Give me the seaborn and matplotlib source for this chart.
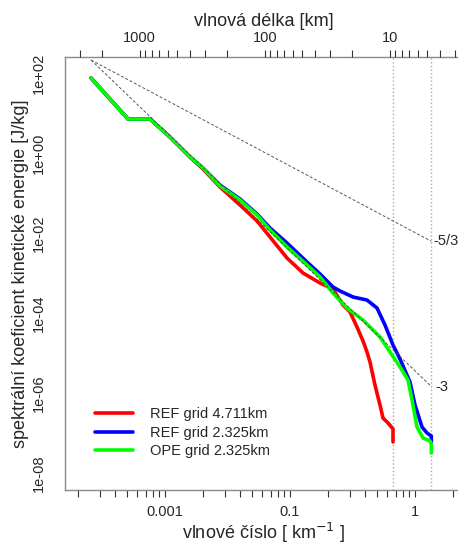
import numpy as np
import seaborn as sns
import matplotlib
matplotlib.use('Agg')
import matplotlib.pyplot as plt
from matplotlib.ticker import FixedLocator, FixedFormatter, LogLocator, NullFormatter
from matplotlib.lines import Line2D

# spectra (wavenumber [km^-1], energy [J/kg])
red_k = [0.00256, 0.00506, 0.00759, 0.01096, 0.01585, 0.02014, 0.02754, 0.03981, 0.05445,
         0.06918, 0.09462, 0.1271, 0.1738, 0.2208, 0.2655, 0.3020, 0.3436, 0.3837, 0.4130,
         0.4365, 0.4786, 0.5248, 0.5546, 0.6081, 0.6669, 0.6669]
red_E = [75.0, 7.08, 7.08, 2.51, 0.794, 0.398, 0.141, 0.0501, 0.0200, 0.00794, 0.00237,
         0.00100, 0.000562, 0.000398, 0.000158, 0.000106, 4.47e-5, 2.00e-5, 1.06e-5, 5.96e-6,
         1.58e-6, 5.01e-7, 2.37e-7, 1.78e-7, 1.26e-7, 5.96e-8]

blue_k = [0.00256, 0.00506, 0.00759, 0.01096, 0.01585, 0.02014, 0.02754, 0.03981, 0.05445,
          0.06918, 0.09462, 0.1368, 0.1738, 0.2208, 0.2512, 0.3192, 0.4130, 0.4966, 0.5754,
          0.6669, 0.7586, 0.9120, 1.0, 1.138, 1.247, 1.351, 1.351]
blue_E = [75.0, 7.08, 7.08, 2.51, 0.794, 0.422, 0.158, 0.0708, 0.0299, 0.0133, 0.00562,
          0.00188, 0.000944, 0.000447, 0.000355, 0.000251, 0.000211, 0.000133, 5.01e-5,
          1.58e-5, 7.08e-6, 1.88e-6, 5.01e-7, 1.41e-7, 1.0e-7, 8.41e-8, 5.96e-8]

green_k = [0.00256, 0.00506, 0.00759, 0.01096, 0.01585, 0.02014, 0.02754, 0.03981, 0.05445,
           0.06918, 0.09462, 0.1368, 0.1738, 0.2208, 0.2858, 0.3837, 0.5248, 0.6310, 0.7586,
           0.8790, 0.9462, 1.0375, 1.159, 1.318, 1.351, 1.351]
green_E = [75.0, 7.08, 7.08, 2.51, 0.794, 0.422, 0.150, 0.0668, 0.0282, 0.0119, 0.00447,
           0.00158, 0.000794, 0.000316, 0.000133, 6.68e-5, 2.51e-5, 1.06e-5, 4.47e-6, 2.11e-6,
           6.68e-7, 1.41e-7, 7.5e-8, 6.31e-8, 5.31e-8, 3.16e-8]

series_names = ['REF grid 4.711km', 'REF grid 2.325km', 'OPE grid 2.325km']
series_colors = ['#ff0000', '#0000ff', '#00ff00']

# reference slopes (-5/3 and -3) endpoints
ref_k = [0.00256, 1.351]
ref53_E = [211, 0.0062]
ref3_E = [211, 1.45e-6]

# 2 x grid spacing cut-offs
cutoff_k = [0.6669, 1.351]

# bottom axis ticks as labelled in the picture
xtick_pos = [0.01, 0.1, 1]
xtick_lab = ['0.001', '0.1', '1']
ytick_pos = [1e2, 1e0, 1e-2, 1e-4, 1e-6, 1e-8]
ytick_lab = ['1e+02', '1e+00', '1e-02', '1e-04', '1e-06', '1e-08']
ytick_minor = [1e1, 1e-1, 1e-3, 1e-5, 1e-7]
top_major = [1000, 100, 10]
top_lab = ['1000', '100', '10']

sns.set_style('white')
plt.rcParams['font.family'] = ['Liberation Sans', 'DejaVu Sans']

fig = plt.figure(figsize=(4.58, 5.44), dpi=100)
ax = fig.add_axes([65 / 458, 54 / 544, 397 / 458, 433 / 544])

ax.set_xscale('log')
ax.set_yscale('log')

for c in cutoff_k:
    ax.axvline(c, color='#aaaaaa', linestyle=':', linewidth=1.0, zorder=1)

for kk, EE, c, n in zip([red_k, blue_k, green_k], [red_E, blue_E, green_E],
                        series_colors, series_names):
    sns.lineplot(x=kk, y=EE, color=c, linewidth=2.6, sort=False, estimator=None,
                 ax=ax, label=n, legend=False, zorder=3)

ax.plot(ref_k, ref53_E, color='#555555', linestyle=(0, (3, 2)), linewidth=0.7, zorder=4)
ax.plot(ref_k, ref3_E, color='#555555', linestyle=(0, (3, 2)), linewidth=0.7, zorder=4)
ax.text(1.40, ref53_E[1], '-5/3', fontsize=10.5, va='center', ha='left', clip_on=False)
ax.text(1.45, ref3_E[1], '-3', fontsize=10.5, va='center', ha='left', clip_on=False)

ax.set_xlim(10 ** -2.8, 10 ** 0.376)
ax.set_ylim(10 ** -8.425, 10 ** 2.4)

ax.xaxis.set_major_locator(FixedLocator(xtick_pos))
ax.xaxis.set_major_formatter(FixedFormatter(xtick_lab))
ax.xaxis.set_minor_locator(LogLocator(base=10, subs=np.arange(2, 10), numticks=20))
ax.xaxis.set_minor_formatter(NullFormatter())

ax.yaxis.set_major_locator(FixedLocator(ytick_pos))
ax.yaxis.set_major_formatter(FixedFormatter(ytick_lab))
ax.yaxis.set_minor_locator(FixedLocator(ytick_minor))
ax.yaxis.set_minor_formatter(NullFormatter())

ax.tick_params(axis='x', which='both', length=5, width=0.8, color='#333333',
               labelsize=10.5, pad=6)
ax.tick_params(axis='y', which='both', length=7, width=0.8, color='#333333',
               labelsize=10.5, pad=7)
for lab in ax.get_yticklabels():
    lab.set_rotation(90)
    lab.set_va('center')

for s in ax.spines.values():
    s.set_color('#888888')
    s.set_linewidth(1.0)

ax.set_xlabel('vlnové číslo [ km$^{-1}$ ]', fontsize=13, labelpad=1)
ax.set_ylabel('spektrální koeficient kinetické energie [J/kg]', fontsize=13, labelpad=2)

# top axis: wavelength = 2 pi / k
top = ax.twiny()
top.set_xscale('log')
top.set_xlim(2 * np.pi / 10 ** -2.8, 2 * np.pi / 10 ** 0.376)
top.xaxis.set_major_locator(FixedLocator(top_major))
top.xaxis.set_major_formatter(FixedFormatter(top_lab))
top.xaxis.set_minor_locator(LogLocator(base=10, subs=np.arange(2, 10), numticks=20))
top.xaxis.set_minor_formatter(NullFormatter())
top.tick_params(axis='x', which='both', length=5, width=0.8, color='#333333',
                labelsize=10.5, pad=4)
top.set_xlabel('vlnová délka [km]', fontsize=13, labelpad=3)
for s in top.spines.values():
    s.set_visible(False)

handles = [Line2D([], [], color=c, linewidth=2.6) for c in series_colors]
ax.legend(handles, series_names, loc='upper left', bbox_to_anchor=(0.06, 0.205),
          frameon=False, fontsize=10.5, handlelength=2.6, handletextpad=1.2,
          labelspacing=0.32, borderaxespad=0)

fig.savefig('out.png', dpi=100)
